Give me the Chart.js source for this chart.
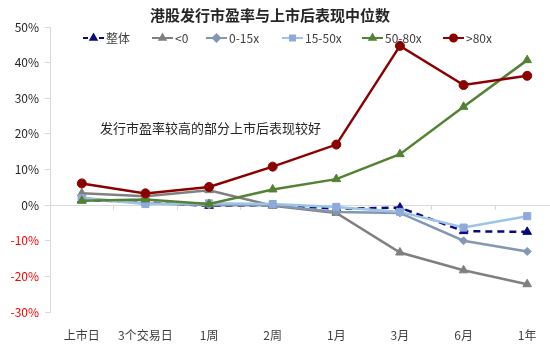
<!DOCTYPE html>
<html>
<head>
<meta charset="utf-8">
<script src="https://cdn.jsdelivr.net/npm/chart.js@4"></script>
<style>
html,body{margin:0;padding:0;overflow:hidden;background:#fff;width:550px;height:351px;}
#wrap{position:absolute;left:0;top:0;width:565px;height:351px;}
</style>
</head>
<body>
<div id="wrap"><canvas id="c" width="565" height="351" style="width:565px;height:351px"></canvas></div>
<script>
const categories = ['上市日','3个交易日','1周','2周','1月','3月','6月','1年'];
const seriesNames = ['整体','<0','0-15x','15-50x','50-80x','>80x'];
const overall   = [1.5, 0.8, -0.2, 0.0, -1.0, -0.7, -7.3, -7.5];
const negPE     = [3.3, 2.5, 4.2, -0.2, -2.2, -13.3, -18.3, -22.2];
const pe0_15    = [2.0, 0.5, 0.0, 0.0, -1.9, -2.2, -10.0, -13.0];
const pe15_50   = [1.9, 0.3, 0.5, 0.3, -0.5, -1.9, -6.3, -3.1];
const pe50_80   = [1.2, 1.6, 0.3, 4.4, 7.3, 14.3, 27.6, 40.7];
const pe80plus  = [6.1, 3.3, 5.1, 10.8, 17.0, 44.7, 33.7, 36.3];
const yTicks = [-30, -20, -10, 0, 10, 20, 30, 40, 50];
const titleText = '港股发行市盈率与上市后表现中位数';
const noteText = '发行市盈率较高的部分上市后表现较好';

const FONT = '"Noto Sans CJK SC", "Noto Sans", sans-serif';
const styles = [
  {line:'#0a0a80', point:'#0a0a80', ps:'triangle', r:5, dash:[7,5]},
  {line:'#808080', point:'#808080', ps:'triangle', r:5, dash:[]},
  {line:'#8497b0', point:'#8497b0', ps:'rectRot', r:4, dash:[]},
  {line:'#9dc3e6', point:'#8eaadb', ps:'rect', r:5, dash:[]},
  {line:'#548235', point:'#548235', ps:'triangle', r:5, dash:[]},
  {line:'#8b0000', point:'#8b0000', ps:'circle', r:4.5, dash:[]}
];
const allData = [overall, negPE, pe0_15, pe15_50, pe50_80, pe80plus];
const datasets = allData.map((d,i)=>({
  label: seriesNames[i],
  data: d,
  borderColor: styles[i].line,
  backgroundColor: styles[i].point,
  pointBackgroundColor: styles[i].point,
  pointBorderColor: styles[i].point,
  pointStyle: styles[i].ps,
  pointRadius: styles[i].r,
  pointBorderWidth: 1,
  borderWidth: 2.5,
  borderDash: styles[i].dash,
  tension: 0,
  order: 6 - i,
  fill: false
}));

const decor = {
  id:'decor',
  afterDraw(chart){
    const ctx = chart.ctx;
    ctx.save();
    ctx.fillStyle = '#262626';
    ctx.font = 'bold 15px ' + FONT;
    ctx.textAlign = 'center';
    ctx.textBaseline = 'middle';
    ctx.fillText(titleText, 270, 15);
    ctx.font = '13px ' + FONT;
    ctx.textAlign = 'left';
    ctx.fillStyle = '#262626';
    ctx.fillText(noteText, 100, 128);
    const xs = [83, 152, 206, 282, 362, 443];
    const y = 38;
    ctx.font = '12px ' + FONT;
    chart.data.datasets.forEach((ds,i)=>{
      const x0 = xs[i];
      ctx.strokeStyle = ds.borderColor;
      ctx.lineWidth = 2;
      ctx.setLineDash(ds.borderDash && ds.borderDash.length ? [5,3] : []);
      ctx.beginPath(); ctx.moveTo(x0, y); ctx.lineTo(x0+21, y); ctx.stroke();
      ctx.setLineDash([]);
      ctx.fillStyle = ds.pointBackgroundColor;
      ctx.strokeStyle = ds.pointBorderColor;
      ctx.beginPath();
      Chart.helpers.drawPoint(ctx, {pointStyle: ds.pointStyle, radius: 3.5, borderWidth: 1, rotation:0}, x0+10.5, y);
      ctx.fillStyle = '#404040';
      ctx.textAlign = 'left';
      ctx.fillText(ds.label, x0+23, y);
    });
    ctx.restore();
  }
};

new Chart(document.getElementById('c'), {
  type:'line',
  data:{labels:categories, datasets},
  options:{
    responsive:false,
    animation:false,
    devicePixelRatio:1,
    layout:{padding:{top:27, right:0, left:1, bottom:0}},
    plugins:{legend:{display:false}, title:{display:false}, tooltip:{enabled:false}},
    scales:{
      x:{
        type:'category', position:'bottom', offset:true,
        grid:{display:false, drawTicks:false},
        border:{display:false},
        ticks:{font:{family:FONT, size:12}, color:'#404040', padding:16, maxRotation:0, autoSkip:false},
        afterFit(s){ s.height = 39; }
      },
      x0:{
        type:'category', position:{y:0}, offset:true,
        grid:{display:true, offset:true, drawOnChartArea:false, drawTicks:true, tickLength:5, color:'#d9d9d9', lineWidth:1},
        border:{display:false},
        ticks:{display:false}
      },
      y:{
        min:-30, max:50,
        afterBuildTicks(s){ s.ticks = yTicks.map(v=>({value:v})); },
        grid:{
          drawOnChartArea:true, drawTicks:true, tickLength:5,
          color:(c)=> c.tick && c.tick.value===0 ? '#d9d9d9' : 'rgba(0,0,0,0)',
          tickColor:'#d9d9d9', lineWidth:1
        },
        border:{display:true, color:'#d9d9d9', width:1},
        ticks:{
          font:{family:FONT, size:12}, padding:6,
          color:(c)=> c.tick && c.tick.value<0 ? '#ff0000' : '#262626',
          callback:(v)=> v + '%'
        },
        afterFit(s){ s.width = 49; }
      }
    }
  },
  plugins:[decor]
});
</script>
</body>
</html>
